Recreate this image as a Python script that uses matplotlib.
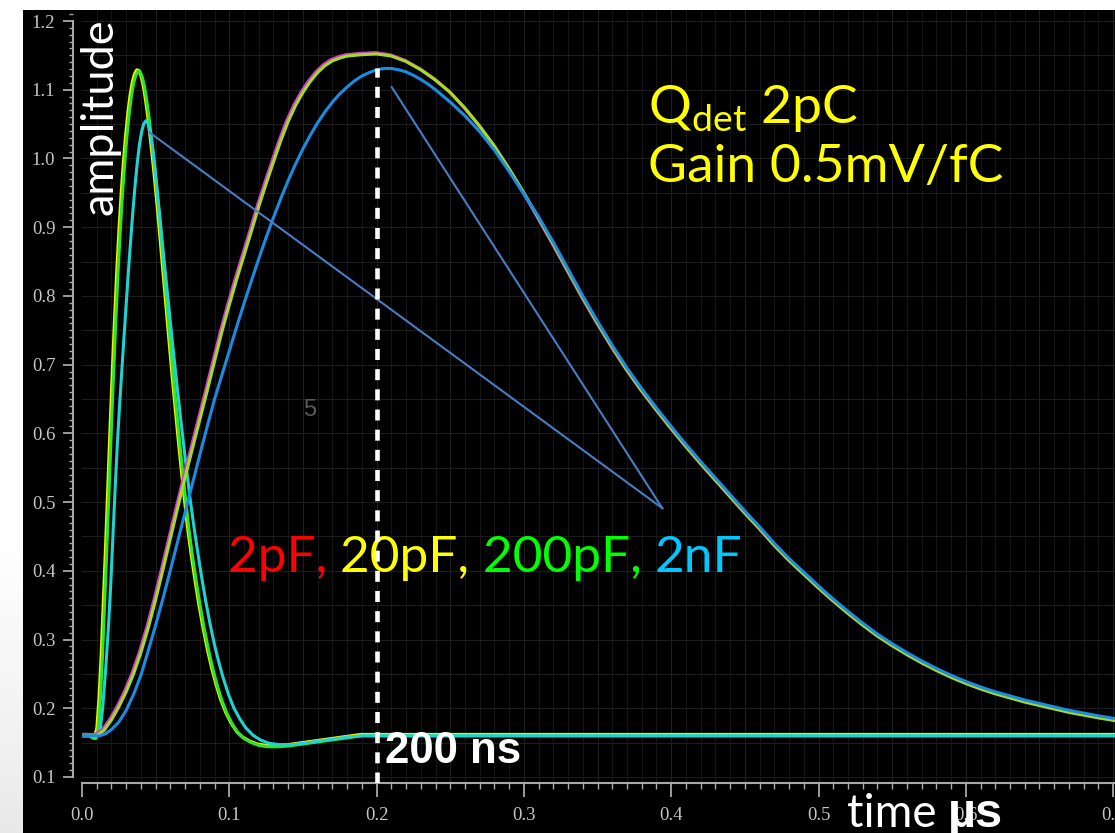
import numpy as np
import matplotlib.pyplot as plt
import matplotlib.transforms as mtransforms
from matplotlib.offsetbox import TextArea, HPacker, AnnotationBbox

plt.rcParams['mathtext.fontset'] = 'custom'
plt.rcParams['mathtext.rm'] = 'Lato'
plt.rcParams['mathtext.it'] = 'Lato:italic'
plt.rcParams['mathtext.bf'] = 'Lato:bold'

W, H = 1115, 833

# time in us, amplitude in V

# short shaping time, 2pF / 20pF / 200pF (overlapping)
fast_t = [0.0, 0.0050, 0.0080, 0.0095, 0.0110, 0.0125, 0.0140, 0.0155, 0.0170,
          0.0185, 0.0200, 0.0215, 0.0230, 0.0245, 0.0260, 0.0275, 0.0290, 0.0305,
          0.0320, 0.0335, 0.0350, 0.0365, 0.0380, 0.0395, 0.0410, 0.0425, 0.0440,
          0.0455, 0.0470, 0.0485, 0.0500, 0.0520, 0.0540, 0.0560, 0.0580, 0.0600,
          0.0620, 0.0640, 0.0660, 0.0680, 0.0700, 0.0725, 0.0750, 0.0775, 0.0800,
          0.0830, 0.0860, 0.0890, 0.0920, 0.0950, 0.0985, 0.1020, 0.1060, 0.1100,
          0.1150, 0.1200, 0.1260, 0.1330, 0.1400, 0.1500, 0.1600, 0.1700, 0.1800,
          0.1900, 0.7013]
fast_v = [0.160, 0.160, 0.156, 0.156, 0.170, 0.215, 0.280, 0.360, 0.440,
          0.525, 0.610, 0.690, 0.765, 0.835, 0.895, 0.948, 0.993, 1.032,
          1.064, 1.090, 1.109, 1.121, 1.127, 1.126, 1.118, 1.104, 1.084,
          1.060, 1.032, 1.003, 0.972, 0.927, 0.879, 0.830, 0.781, 0.732,
          0.684, 0.638, 0.594, 0.551, 0.511, 0.462, 0.422, 0.386, 0.352,
          0.316, 0.284, 0.256, 0.232, 0.211, 0.192, 0.177, 0.164, 0.156,
          0.150, 0.146, 0.144, 0.144, 0.145, 0.148, 0.151, 0.154, 0.157,
          0.160, 0.160]

# short shaping time, 2nF
fast2n_t = [0.0, 0.0105, 0.0122, 0.0140, 0.0160, 0.0180, 0.0195, 0.0210, 0.0225,
            0.0240, 0.0255, 0.0270, 0.0285, 0.0300, 0.0315, 0.0330, 0.0345, 0.0360,
            0.0375, 0.0390, 0.0405, 0.0420, 0.0435, 0.0450, 0.0465, 0.0480, 0.0495,
            0.0510, 0.0530, 0.0550, 0.0570, 0.0590, 0.0610, 0.0630, 0.0650, 0.0670,
            0.0690, 0.0710, 0.0735, 0.0760, 0.0785, 0.0810, 0.0840, 0.0870, 0.0900,
            0.0930, 0.0960, 0.0995, 0.1030, 0.1070, 0.1110, 0.1160, 0.1210, 0.1270,
            0.1340, 0.1420, 0.1500, 0.1600, 0.1700, 0.1800, 0.1900, 0.7013]
fast2n_v = [0.160, 0.160, 0.165, 0.200, 0.255, 0.320, 0.380, 0.450, 0.520,
            0.585, 0.640, 0.690, 0.740, 0.788, 0.835, 0.880, 0.922, 0.960,
            0.993, 1.020, 1.039, 1.051, 1.055, 1.050, 1.037, 1.015, 0.987,
            0.955, 0.912, 0.868, 0.825, 0.783, 0.741, 0.700, 0.660, 0.621,
            0.583, 0.547, 0.503, 0.464, 0.428, 0.394, 0.356, 0.322, 0.292,
            0.266, 0.243, 0.220, 0.201, 0.185, 0.172, 0.161, 0.154, 0.149,
            0.147, 0.147, 0.149, 0.152, 0.155, 0.158, 0.160, 0.160]

# long shaping time, 2pF / 20pF / 200pF
slow_t = [0.000, 0.010, 0.015, 0.020, 0.025, 0.030, 0.035, 0.040, 0.045, 0.050,
          0.055, 0.060, 0.065, 0.070, 0.075, 0.080, 0.085, 0.090, 0.095, 0.100,
          0.105, 0.110, 0.115, 0.120, 0.125, 0.130, 0.135, 0.140, 0.145, 0.150,
          0.155, 0.160, 0.165, 0.170, 0.175, 0.180, 0.190, 0.200, 0.210, 0.220,
          0.230, 0.240, 0.250, 0.260, 0.270, 0.280, 0.290, 0.300, 0.310, 0.320,
          0.330, 0.340, 0.350, 0.360, 0.370, 0.380, 0.390, 0.400, 0.410, 0.420,
          0.430, 0.440, 0.450, 0.460, 0.470, 0.480, 0.490, 0.500, 0.510, 0.520,
          0.530, 0.540, 0.550, 0.560, 0.570, 0.580, 0.590, 0.600, 0.610, 0.620,
          0.630, 0.640, 0.650, 0.660, 0.670, 0.680, 0.690, 0.7013]
slow_v = [0.160, 0.160, 0.168, 0.183, 0.202, 0.224, 0.250, 0.281, 0.317, 0.358,
          0.402, 0.447, 0.492, 0.536, 0.578, 0.620, 0.662, 0.705, 0.748, 0.787,
          0.824, 0.859, 0.894, 0.930, 0.963, 0.995, 1.026, 1.054, 1.077, 1.096,
          1.112, 1.125, 1.135, 1.142, 1.146, 1.149, 1.151, 1.152, 1.149, 1.141,
          1.129, 1.114, 1.096, 1.073, 1.047, 1.018, 0.985, 0.950, 0.913, 0.875,
          0.836, 0.797, 0.760, 0.725, 0.692, 0.662, 0.634, 0.607, 0.581, 0.556,
          0.532, 0.508, 0.484, 0.461, 0.437, 0.415, 0.395, 0.375, 0.356, 0.338,
          0.321, 0.305, 0.291, 0.278, 0.266, 0.255, 0.245, 0.236, 0.228, 0.221,
          0.215, 0.209, 0.204, 0.199, 0.194, 0.190, 0.186, 0.182]

# long shaping time, 2nF
slow2n_t = [0.000, 0.012, 0.016, 0.020, 0.025, 0.030, 0.035, 0.040, 0.045, 0.050,
            0.055, 0.060, 0.065, 0.070, 0.075, 0.080, 0.085, 0.090, 0.095, 0.100,
            0.105, 0.110, 0.115, 0.120, 0.125, 0.130, 0.135, 0.140, 0.145, 0.150,
            0.155, 0.160, 0.165, 0.170, 0.175, 0.180, 0.185, 0.190, 0.195, 0.200,
            0.205, 0.210, 0.215, 0.220, 0.225, 0.230, 0.235, 0.240, 0.250, 0.260,
            0.270, 0.280, 0.290, 0.300, 0.310, 0.320, 0.330, 0.340, 0.350, 0.360,
            0.370, 0.380, 0.390, 0.400, 0.410, 0.420, 0.430, 0.440, 0.450, 0.460,
            0.470, 0.480, 0.490, 0.500, 0.510, 0.520, 0.530, 0.540, 0.550, 0.560,
            0.570, 0.580, 0.590, 0.600, 0.610, 0.620, 0.630, 0.640, 0.650, 0.660,
            0.670, 0.680, 0.690, 0.7013]
slow2n_v = [0.160, 0.160, 0.163, 0.169, 0.180, 0.197, 0.220, 0.248, 0.284, 0.321,
            0.360, 0.401, 0.443, 0.485, 0.527, 0.569, 0.610, 0.650, 0.685, 0.720,
            0.755, 0.789, 0.822, 0.854, 0.885, 0.914, 0.942, 0.968, 0.992, 1.014,
            1.034, 1.052, 1.068, 1.082, 1.094, 1.104, 1.113, 1.120, 1.125, 1.129,
            1.131, 1.131, 1.129, 1.126, 1.121, 1.115, 1.108, 1.100, 1.082, 1.062,
            1.039, 1.012, 0.981, 0.948, 0.915, 0.878, 0.839, 0.800, 0.763, 0.728,
            0.695, 0.665, 0.637, 0.610, 0.584, 0.559, 0.535, 0.511, 0.487, 0.464,
            0.440, 0.418, 0.398, 0.378, 0.359, 0.341, 0.324, 0.308, 0.294, 0.281,
            0.269, 0.258, 0.248, 0.239, 0.231, 0.224, 0.218, 0.212, 0.207, 0.202,
            0.197, 0.193, 0.189, 0.185]

marker_t = 0.2  # 200 ns
pointer_tip = (0.394, 0.491)
pointer_ends = [(0.0457, 1.038), (0.2102, 1.104)]

cap_labels = ['2pF, ', '20pF, ', '200pF, ', '2nF']
cap_colors = ['#ff0000', '#ffff00', '#00ff00', '#00c8ff']

x_ticks = [0.0, 0.1, 0.2, 0.3, 0.4, 0.5, 0.6, 0.7]
x_labels = ['0.0', '0.1', '0.2', '0.3', '0.4', '0.5', '0.6', '0.7']
y_ticks = [0.1, 0.2, 0.3, 0.4, 0.5, 0.6, 0.7, 0.8, 0.9, 1.0, 1.1, 1.2]
y_labels = ['0.1', '0.2', '0.3', '0.4', '0.5', '0.6', '0.7', '0.8', '0.9', '1.0', '1.1', '1.2']

fig = plt.figure(figsize=(W / 100, H / 100), dpi=100, facecolor='white')

# greyish smear on the white margin, lower left
haze = fig.add_axes([0, 0, 23 / W, 300 / H])
haze.imshow(np.linspace(1, 0, 64)[:, None] * np.ones((1, 4)), cmap='Greys', vmin=0, vmax=6,
            aspect='auto', origin='lower')
haze.axis('off')

# black screen area
bg = fig.add_axes([23 / W, 0, 1 - 23 / W, 823 / H])
bg.set_facecolor('black')
bg.set_xticks([])
bg.set_yticks([])
for s in bg.spines.values():
    s.set_visible(False)

ax = fig.add_axes([82 / W, 50 / H, 1033 / W, 773 / H])
ax.patch.set_alpha(0)
ax.set_xlim(0, 1033 / 1473)
ax.set_ylim(0.1 - 6 / 687, 1.2 + 11 / 687)

# faint scope grid
for gx in np.arange(0.01, 0.71, 0.01):
    ax.axvline(gx, color='#151515' if round(gx * 100) % 5 else '#1f1f1f', lw=0.8, zorder=0)
for gy in np.arange(0.1, 1.21, 0.05):
    ax.axhline(gy, color='#1c1c1c', lw=0.8, zorder=0)

ax.set_xticks(x_ticks, x_labels)
ax.set_yticks(y_ticks, y_labels)
ax.xaxis.set_minor_locator(plt.MultipleLocator(0.01))
ax.yaxis.set_minor_locator(plt.MultipleLocator(0.01))
ax.tick_params(which='both', colors='#a8a8a8', direction='out')
ax.tick_params(which='major', labelcolor='#c4c4c4', width=1.3, labelsize=13.5,
               labelfontfamily='Liberation Serif')
ax.tick_params(which='minor', width=1.0)
ax.tick_params(axis='y', which='major', length=7.2, pad=5.5)
ax.tick_params(axis='y', which='minor', length=3)
ax.tick_params(axis='x', which='major', length=10, pad=7)
ax.tick_params(axis='x', which='minor', length=4.3)

for side in ['top', 'right']:
    ax.spines[side].set_visible(False)
ax.spines['left'].set_position(('outward', 6.5))
ax.spines['left'].set_bounds(0.1, 1.2)
ax.spines['bottom'].set_bounds(0, 1033 / 1473)
for side in ['left', 'bottom']:
    ax.spines[side].set_color('#a8a8a8')
    ax.spines[side].set_linewidth(1.5)

# slightly shifted copy gives the coloured fringe of overlapping traces
fringe = mtransforms.offset_copy(ax.transData, fig=fig, x=-1.2, y=1.2, units='dots')

ax.plot(fast_t, fast_v, color='#f2f200', lw=2.4, transform=fringe, zorder=3)
ax.plot(fast_t, fast_v, color='#2ae62a', lw=2.2, zorder=3)
ax.plot(fast2n_t, fast2n_v, color='#1fd3d3', lw=2.2, zorder=3)
ax.plot(slow_t, slow_v, color='#d040d0', lw=2.4, transform=fringe, zorder=3)
ax.plot(slow_t, slow_v, color='#a4dc1e', lw=2.2, zorder=3)
ax.plot(slow2n_t, slow2n_v, color='#1a8ce2', lw=2.2, zorder=3)

# pointer lines from the 2nF label to the 2nF traces
for end in pointer_ends:
    ax.plot([pointer_tip[0], end[0]], [pointer_tip[1], end[1]],
            color='#4a7cc4', lw=1.5, zorder=4)

# 200 ns marker
y0, y1 = ax.get_ylim()
ax.axvline(marker_t, ymin=0, ymax=(max(slow2n_v) - y0) / (y1 - y0),
           color='white', lw=3.3, ls=(0, (2.4, 2.0)), zorder=6)
ax.text(0.2057, 0.120, '200 ns', color='white', fontsize=31.5,
        fontfamily='Liberation Sans', fontweight='bold', zorder=7)

ax.text(0.384, 1.052, 'Q$_{\\mathrm{det}}$ 2pC', color='#ffff00', fontsize=38.5,
        fontfamily='Lato', zorder=7)
ax.text(0.384, 0.966, 'Gain 0.5mV/fC', color='#ffff00', fontsize=38.5,
        fontfamily='Lato', zorder=7)

caps = HPacker(children=[TextArea(s, textprops=dict(color=c, fontsize=37, fontfamily='Lato'))
                         for s, c in zip(cap_labels, cap_colors)],
               align='baseline', pad=0, sep=0)
ax.add_artist(AnnotationBbox(caps, (0.099, 0.385), xycoords='data', box_alignment=(0, 0),
                             frameon=False, pad=0, zorder=5))

ax.text(0.1548, 0.634, '5', color='#5a5a5a', fontsize=17, fontfamily='Liberation Sans',
        ha='center', va='center', zorder=2)

ax.text(0.0122, 1.061, 'amplitude', color='white', fontsize=32.5, fontfamily='Lato',
        rotation=90, ha='center', va='center', zorder=7)

xlab = HPacker(children=[TextArea('time ', textprops=dict(color='white', fontsize=33, fontfamily='Lato')),
                         TextArea('µs', textprops=dict(color='white', fontsize=35,
                                                       fontfamily='Liberation Sans', fontweight='bold'))],
               align='baseline', pad=0, sep=0)
ax.add_artist(AnnotationBbox(xlab, (0.5193, 0.012), xycoords='data', box_alignment=(0, 0),
                             frameon=False, pad=0, zorder=8, annotation_clip=False))

fig.savefig('out.png', dpi=100, facecolor=fig.get_facecolor())
